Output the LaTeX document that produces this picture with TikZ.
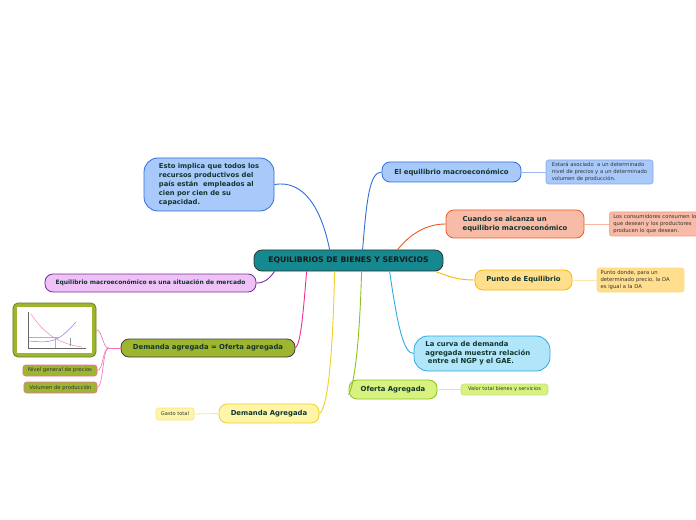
\documentclass[tikz,border=0pt]{standalone}
\usepackage{fontspec}
\setmainfont{DejaVu Sans}
\usetikzlibrary{calc}
\definecolor{txt}{HTML}{12352E}
\definecolor{ntxt}{HTML}{333333}
\definecolor{teal}{HTML}{14898F}
\definecolor{lblue}{HTML}{A9C9FA}
\definecolor{dblue}{HTML}{2F6FDB}
\definecolor{salm}{HTML}{F8BBA7}
\definecolor{ored}{HTML}{F05A22}
\definecolor{lyel}{HTML}{FFDF8E}
\definecolor{oyel}{HTML}{F9B800}
\definecolor{sky}{HTML}{B1E5FA}
\definecolor{skyb}{HTML}{31A9E6}
\definecolor{lgreen}{HTML}{D7F27F}
\definecolor{dgreen}{HTML}{8CC21D}
\definecolor{pyel}{HTML}{FFF5A9}
\definecolor{byel}{HTML}{EDD126}
\definecolor{olive}{HTML}{9DB52F}
\definecolor{pink}{HTML}{F0308F}
\definecolor{lav}{HTML}{EEC1F7}
\definecolor{purp}{HTML}{7A2F97}
\tikzset{
  topic/.style={draw, line width=0.8bp, rounded corners=8bp, font=\bfseries\fontsize{6.9}{8.6}\selectfont, text=txt, inner sep=0pt, align=center},
  note/.style={draw, line width=0.6bp, rounded corners=2.5bp, font=\fontsize{5.3}{6.6}\selectfont, text=ntxt, inner sep=0pt, align=left},
  link/.style={line width=0.9bp}
}
\begin{document}
\begin{tikzpicture}[x=1bp,y=-1bp]
\useasboundingbox (0,0) rectangle (696,520);
\fill[white] (0,0) rectangle (696,520);

% central
\node[topic, fill=teal, draw=black!80, minimum width=189bp, minimum height=21bp, font=\bfseries\fontsize{7.7}{8}\selectfont, text=black!90] (c) at (348.5,260.5) {EQUILIBRIOS DE BIENES Y SERVICIOS};

% left upper
\node[topic, fill=lblue, draw=dblue, rounded corners=14bp, minimum width=130bp, minimum height=53bp, align=left, font=\bfseries\fontsize{6.8}{9.2}\selectfont] (esto) at (209,184.5) {Esto implica que todos los\\recursos productivos del\\país están \ empleados al\\cien por cien de su\\capacidad.\hspace*{14bp}};

% right side
\node[topic, fill=lblue, draw=dblue, minimum width=139bp, minimum height=20bp] (eqm) at (451.5,172) {El equilibrio macroeconómico};
\node[note, fill=lblue, draw=dblue!60, minimum width=107bp, minimum height=24bp] (n1) at (599.5,172) {Estará asociado \ a un determinado\\nivel de precios y a un determinado\\volumen de producción.};

\node[topic, fill=salm, draw=ored, minimum width=138bp, minimum height=28bp, align=left] (cuando) at (515,224) {Cuando se alcanza un\\equilibrio macroeconómico};
\node[note, fill=salm, draw=ored!60, minimum height=24bp, minimum width=92bp, text width=84bp, anchor=west, inner xsep=4bp] (n2) at (609,224) {Los consumidores consumen lo\\que desean y los productores\\producen lo que desean.};

\node[topic, fill=lyel, draw=oyel, minimum width=97bp, minimum height=20bp] (punto) at (523.5,280) {Punto de Equilibrio};
\node[note, fill=lyel, draw=oyel!50, minimum width=87bp, minimum height=24bp, text width=80bp] (n3) at (640.5,280) {Punto donde, para un\\determinado precio, la DA\\es igual a la DA};

\node[topic, fill=sky, draw=skyb, rounded corners=14bp, minimum width=136bp, minimum height=35bp, align=left] (curva) at (482,353.5) {La curva de demanda\hspace*{30bp}\\agregada muestra relación\\ \ entre el NGP y el GAE.};

\node[topic, fill=lgreen, draw=dgreen, minimum width=88bp, minimum height=19bp] (oferta) at (393,389.5) {Oferta Agregada};
\node[note, fill=lgreen, draw=dgreen!50, minimum width=87bp, minimum height=11bp, align=center, font=\fontsize{5.1}{6}\selectfont] (n4) at (504.5,389.5) {Valor total bienes y servicios};

\node[topic, fill=pyel, draw=byel, minimum width=100bp, minimum height=19bp] (dema) at (269,413.5) {Demanda Agregada};
\node[note, fill=pyel, draw=byel!60, minimum width=38bp, minimum height=12bp, align=center, font=\fontsize{5.1}{6}\selectfont] (n5) at (175,414) {Gasto total};

% left side
\node[topic, fill=olive, draw=black!75, minimum width=174bp, minimum height=18bp] (deo) at (208,348) {Demanda agregada = Oferta agregada};
\node[topic, fill=olive, draw=olive!70!black, rounded corners=5bp, minimum width=83bp, minimum height=54bp] (img) at (54.5,330) {};
\node[note, fill=olive, draw=pink!70, minimum width=74bp, minimum height=11bp, align=center, font=\fontsize{5.3}{6}\selectfont] (nivel) at (60,370.5) {Nivel general de precios};
\node[note, fill=olive, draw=pink!70, minimum width=73bp, minimum height=11bp, align=center, font=\fontsize{5.3}{6}\selectfont] (vol) at (60.5,387.5) {Volumen de producción};

\node[topic, fill=lav, draw=purp, minimum width=211bp, minimum height=18bp, font=\bfseries\fontsize{6}{7}\selectfont] (emerc) at (150.5,283) {Equilibrio macroeconómico es una situación de mercado};

% graph inside image
\fill[white] (17,307) rectangle (92,353);
\draw[black!60, line width=0.3bp] (28,312) -- (28,348) -- (86,348);
\draw[pink!60, line width=0.5bp] (31,314) .. controls (45,335) and (60,344) .. (82,347);
\draw[blue!50, line width=0.5bp] (29,341) .. controls (50,343) and (58,343) .. (76,322);
\draw[black!30, line width=0.3bp] (29,337) -- (60,337);
\draw[black!30, line width=0.3bp] (55,338) -- (55,348);
\draw[black!40, line width=0.3bp] (70,338) -- (70,346);

% connectors
\draw[link, dblue] ([xshift=76bp]c.north west) .. controls +(-8,-40) and +(30,-5) .. (esto.east);
\draw[link, dblue] ([xshift=109bp]c.north west) .. controls +(4,-50) and +(-12,0) .. (eqm.west);
\draw[link, ored] ([xshift=144bp]c.north west) .. controls +(12,-15) and +(-20,0) .. (cuando.west);
\draw[link, oyel] ([xshift=-8bp]c.south east) .. controls +(15,6) and +(-15,0) .. (punto.west);
\draw[link, skyb] ([xshift=136bp]c.south west) .. controls +(8,55) and +(-10,0) .. (curva.west);
\draw[link, dgreen] ([xshift=108bp]c.south west) .. controls +(-2,70) and +(6,-10) .. ([yshift=-5bp]oferta.west);
\draw[link, byel] ([xshift=81bp]c.south west) .. controls +(-2,90) and +(8,-5) .. (dema.east);
\draw[link, pink] ([xshift=53bp]c.south west) .. controls +(-4,50) and +(5,-5) .. (deo.east);
\draw[link, purp] ([xshift=21bp]c.south west) .. controls +(-6,8) and +(8,0) .. (emerc.east);

\draw[line width=0.8bp, dblue!50] (eqm.east) -- (n1.west);
\draw[line width=0.8bp, ored!45] (cuando.east) -- (n2.west);
\draw[line width=0.8bp, oyel!35] (punto.east) -- (n3.west);
\draw[line width=0.8bp, dgreen!35] (oferta.east) -- (n4.west);
\draw[line width=0.8bp, byel!50] (dema.west) -- (n5.east);

\draw[line width=0.6bp, pink!70] (deo.west) -- ++(-12,0) coordinate (br);
\draw[line width=0.6bp, pink!70] (br) .. controls +(-6,0) and +(6,0) .. (img.east);
\draw[line width=0.6bp, pink!70] (br) .. controls +(-6,0) and +(6,0) .. (nivel.east);
\draw[line width=0.6bp, pink!70] (br) .. controls +(-6,0) and +(6,0) .. (vol.east);
\end{tikzpicture}
\end{document}
